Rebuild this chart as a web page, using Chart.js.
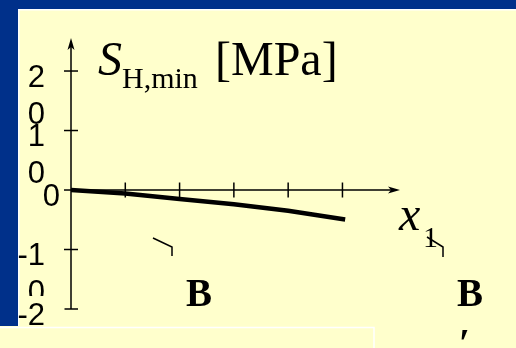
<!DOCTYPE html>
<html>
<head>
<meta charset="utf-8">
<script src="https://cdn.jsdelivr.net/npm/chart.js@4.4.0/dist/chart.umd.min.js"></script>
<style>
  html, body { margin: 0; padding: 0; background: #ffffcc; }
  #wrap { width: 516px; height: 348px; }
</style>
</head>
<body>
<div id="wrap"><canvas id="grafica" width="516" height="348"></canvas></div>
<script>
/********** Datos de la curva S_H,min(x1) **********/
const posiciones = [0, 1, 2, 3, 4, 5.05];
const tensiones = [0, -0.6, -1.5, -2.4, -3.5, -4.95];
const marcasX = [1, 2, 3, 4, 5];
const marcasY = [20, 10, 0, -10, -20];
const etiquetasY = [['2', '0'], ['1', '0'], ['0'], ['-1', '0'], ['-2', '0']];

const AZUL = '#00308a';
const AMARILLO = '#ffffcc';
const SERIF = '"Liberation Serif", "Times New Roman", serif';
const SANS = '"Liberation Sans", Arial, sans-serif';

// texto colocado por el borde izquierdo de la tinta y su linea base
const texto = (ctx, txt, font, izq, base) => {
  ctx.font = font;
  const m = ctx.measureText(txt);
  ctx.fillText(txt, izq + m.actualBoundingBoxLeft, base);
};

// punta de flecha con muesca, apuntando en la direccion (dx, dy)
const flecha = (ctx, tx, ty, dx, dy) => {
  const L = 12, N = 9, w = 3.5;
  const nx = -dy, ny = dx;
  ctx.beginPath();
  ctx.moveTo(tx, ty);
  ctx.lineTo(tx - dx * L + nx * w, ty - dy * L + ny * w);
  ctx.lineTo(tx - dx * N, ty - dy * N);
  ctx.lineTo(tx - dx * L - nx * w, ty - dy * L - ny * w);
  ctx.closePath();
  ctx.fill();
};

const trazo = (ctx, pts) => {
  ctx.beginPath();
  ctx.moveTo(pts[0][0], pts[0][1]);
  pts.slice(1).forEach(p => ctx.lineTo(p[0], p[1]));
  ctx.stroke();
};

/********** Fondo y marco azul **********/
const marco = {
  id: 'marco',
  beforeDraw(chart) {
    const ctx = chart.ctx;
    ctx.save();
    ctx.fillStyle = AMARILLO;
    ctx.fillRect(0, 0, chart.width, chart.height);
    ctx.fillStyle = AZUL;
    ctx.fillRect(0, 0, chart.width, 9);
    ctx.fillRect(0, 0, 18, 326);
    ctx.fillStyle = '#ffffff';
    ctx.fillRect(18, 9, chart.width - 18, 1.5);
    ctx.fillRect(18, 9, 1.5, 317);
    ctx.restore();
  }
};

/********** Ejes con flechas y marcas cruzadas **********/
const ejes = {
  id: 'ejes',
  beforeDatasetsDraw(chart) {
    const {ctx, chartArea: a, scales: {x, y}} = chart;
    const x0 = x.getPixelForValue(0);
    const y0 = y.getPixelForValue(0);
    ctx.save();
    ctx.strokeStyle = '#000';
    ctx.fillStyle = '#000';
    ctx.lineWidth = 1.5;
    trazo(ctx, [[x0, y.getPixelForValue(-20)], [x0, a.top + 9]]);
    trazo(ctx, [[x0, y0], [a.right - 9, y0]]);
    flecha(ctx, x0, a.top, 0, -1);
    flecha(ctx, a.right, y0, 1, 0);
    marcasY.forEach(v => {
      const p = y.getPixelForValue(v);
      trazo(ctx, [[x0 - 7, p], [x0 + 7, p]]);
    });
    marcasX.forEach(v => {
      const p = x.getPixelForValue(v);
      trazo(ctx, [[p, y0 - 7.5], [p, y0 + 7.5]]);
    });
    ctx.restore();
  }
};

/********** Rotulos, titulo y cajas de texto **********/
const textos = {
  id: 'textos',
  afterDraw(chart) {
    const {ctx, scales: {y}} = chart;
    ctx.save();
    ctx.fillStyle = '#000';
    ctx.textBaseline = 'alphabetic';

    // etiquetas del eje vertical (las de dos cifras se parten en dos lineas)
    ctx.font = '31px ' + SANS;
    ctx.textAlign = 'right';
    marcasY.forEach((v, i) => {
      const p = y.getPixelForValue(v);
      const lineas = etiquetasY[i];
      if (v === -20) {
        ctx.fillStyle = AMARILLO;
        ctx.fillRect(19.5, 296, 45, 31);
        ctx.fillStyle = '#000';
      }
      const xd = lineas.length > 1 ? 45 : 60;
      lineas.forEach((t, k) => ctx.fillText(t, xd, p + 15.5 + k * 37));
    });
    ctx.textAlign = 'left';

    // S_H,min [MPa]
    texto(ctx, 'S', 'italic 48px ' + SERIF, 98, 75);
    texto(ctx, 'H,min', '30px ' + SERIF, 122, 88);
    texto(ctx, '[MPa]', '48px ' + SERIF, 218, 75);

    // x1
    texto(ctx, 'x', 'italic 48px ' + SERIF, 398, 230);
    texto(ctx, '1', '30px ' + SERIF, 425, 247);

    // B
    texto(ctx, 'B', 'bold 39px ' + SERIF, 186, 306);
    texto(ctx, 'B', 'bold 39px ' + SERIF, 457, 306);

    // prima bajo la segunda B
    ctx.font = 'bold 39px ' + SERIF;
    const m = ctx.measureText('\u2032');
    ctx.fillText('\u2032', 461 + m.actualBoundingBoxLeft, 330 + m.actualBoundingBoxAscent);

    // trazos sueltos
    ctx.strokeStyle = '#000';
    ctx.lineWidth = 1.5;
    trazo(ctx, [[153, 238], [172, 247], [172, 256]]);
    trazo(ctx, [[427, 237], [443, 247], [443, 257]]);

    // caja inferior
    ctx.fillStyle = AMARILLO;
    ctx.fillRect(0, 327.5, 374, chart.height - 327.5);
    ctx.strokeStyle = '#ffffff';
    trazo(ctx, [[0, 327.5], [374, 327.5], [374, chart.height]]);
    ctx.restore();
  }
};

/********** Grafica **********/
new Chart(document.getElementById('grafica'), {
  type: 'line',
  data: {
    datasets: [{
      data: posiciones.map((p, i) => ({x: p, y: tensiones[i]})),
      borderColor: '#000',
      borderWidth: 4.5,
      borderCapStyle: 'butt',
      pointRadius: 0,
      tension: 0,
      fill: false
    }]
  },
  options: {
    responsive: false,
    animation: false,
    layout: {padding: {left: 71, right: 116, top: 38, bottom: 39}},
    plugins: {legend: {display: false}, tooltip: {enabled: false}},
    scales: {
      x: {type: 'linear', min: 0, max: 6.06, display: false},
      y: {type: 'linear', min: -20, max: 25.55, display: false}
    }
  },
  plugins: [marco, ejes, textos]
});
</script>
</body>
</html>
